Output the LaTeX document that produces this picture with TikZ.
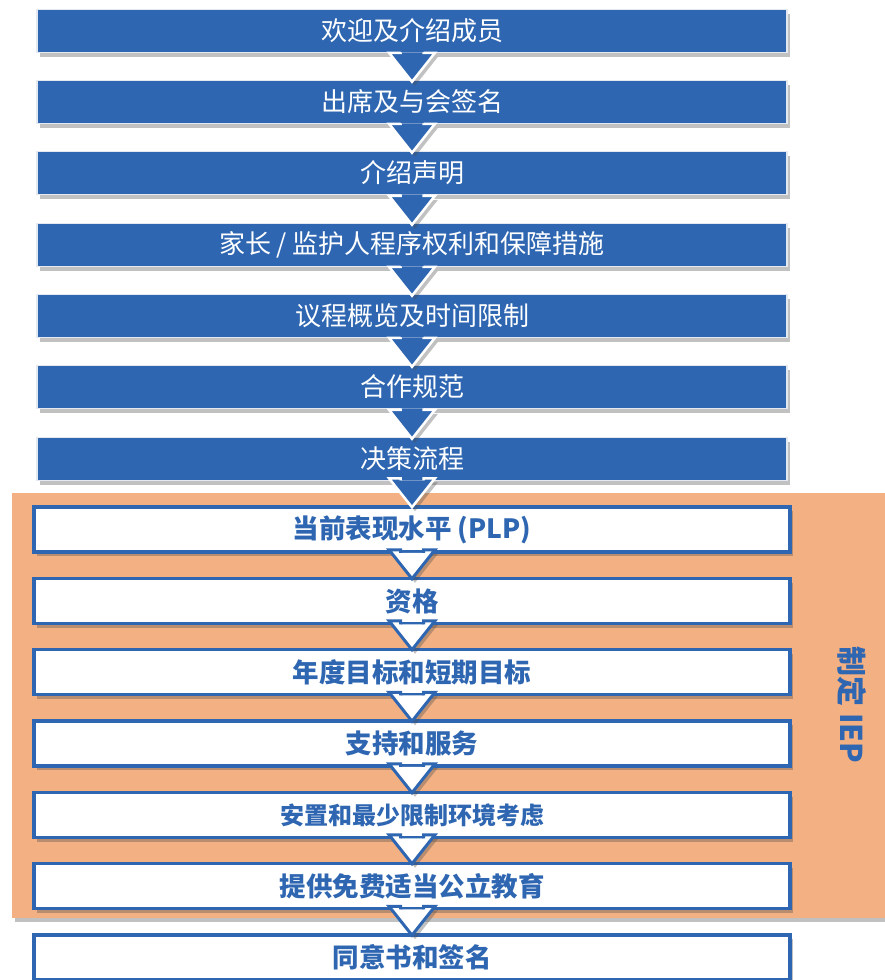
\documentclass[tikz,border=0pt]{standalone}
\usepackage{fontspec}
\newfontfamily\cjk{Noto Sans CJK SC}
\usetikzlibrary{shadows}
\definecolor{stepblue}{HTML}{2E66B1}
\definecolor{ieporange}{HTML}{F3B083}
\definecolor{edgewhite}{HTML}{E4E9F1}
\tikzset{
	boxshadow/.style={drop shadow={shadow xshift=3pt, shadow yshift=-4pt, opacity=0.35, fill=black!70}},
	opening/.style={draw=edgewhite, line width=1.5pt, fill=stepblue, minimum width=750pt, minimum height=43pt, inner sep=0pt, text=white, font=\cjk\fontsize{26}{30}\selectfont, boxshadow},
	planning/.style={draw=stepblue, line width=3.5pt, fill=white, minimum width=756pt, minimum height=45pt, inner sep=0pt, text=stepblue, font=\cjk\bfseries\fontsize{26.5}{30}\selectfont, boxshadow},
	blockarrow/.style={to path={([xshift=-11.5pt,yshift=1pt]\tikztostart) -- ([xshift=-11.5pt,yshift=27pt]\tikztotarget) -- ([xshift=-23pt,yshift=27pt]\tikztotarget) -- ([yshift=-2pt]\tikztotarget) -- ([xshift=23pt,yshift=27pt]\tikztotarget) -- ([xshift=11.5pt,yshift=27pt]\tikztotarget) -- ([xshift=11.5pt,yshift=1pt]\tikztostart)}},
	bluearrow/.style={fill=stepblue, draw=white, line width=2.5pt, line join=miter, blockarrow, boxshadow},
	whitearrow/.style={fill=white, draw=stepblue, line width=3pt, line join=miter, blockarrow, boxshadow}
}
\begin{document}
\begin{tikzpicture}[x=1pt,y=-1pt]
		\useasboundingbox (0,0) rectangle (885,980);
		\fill[ieporange, boxshadow] (12,493) rectangle (885,918);
		\node[opening] (s1) at (412,31) {欢迎及介绍成员};
		\node[opening] (s2) at (412,102) {出席及与会签名};
		\node[opening] (s3) at (412,173) {介绍声明};
		\node[opening] (s4) at (412,245) {家长 / 监护人程序权利和保障措施};
		\node[opening] (s5) at (412,316) {议程概览及时间限制};
		\node[opening] (s6) at (412,387) {合作规范};
		\node[opening] (s7) at (412,459) {决策流程};
		\node[planning] (p1) at (412,529.5) {当前表现水平 (PLP)};
		\node[planning] (p2) at (412,601) {资格};
		\node[planning] (p3) at (412,672) {年度目标和短期目标};
		\node[planning] (p4) at (412,743.5) {支持和服务};
		\node[planning, font=\cjk\bfseries\fontsize{24}{28}\selectfont] (p5) at (412,815) {安置和最少限制环境考虑};
		\node[planning] (p6) at (412,886) {提供免费适当公立教育};
		\node[planning] (p7) at (412,957.5) {同意书和签名};
		\node[rotate=-90, text=stepblue, font=\cjk\bfseries\fontsize{30}{34}\selectfont] (phase) at (852,705) {制定 IEP};
		\draw[bluearrow] (s1.south) to (s2.north);
		\draw[bluearrow] (s2.south) to (s3.north);
		\draw[bluearrow] (s3.south) to (s4.north);
		\draw[bluearrow] (s4.south) to (s5.north);
		\draw[bluearrow] (s5.south) to (s6.north);
		\draw[bluearrow] (s6.south) to (s7.north);
		\draw[bluearrow] (s7.south) to (p1.north);
		\draw[whitearrow] (p1.south) to (p2.north);
		\draw[whitearrow] (p2.south) to (p3.north);
		\draw[whitearrow] (p3.south) to (p4.north);
		\draw[whitearrow] (p4.south) to (p5.north);
		\draw[whitearrow] (p5.south) to (p6.north);
		\draw[whitearrow] (p6.south) to (p7.north);
\end{tikzpicture}
\end{document}
